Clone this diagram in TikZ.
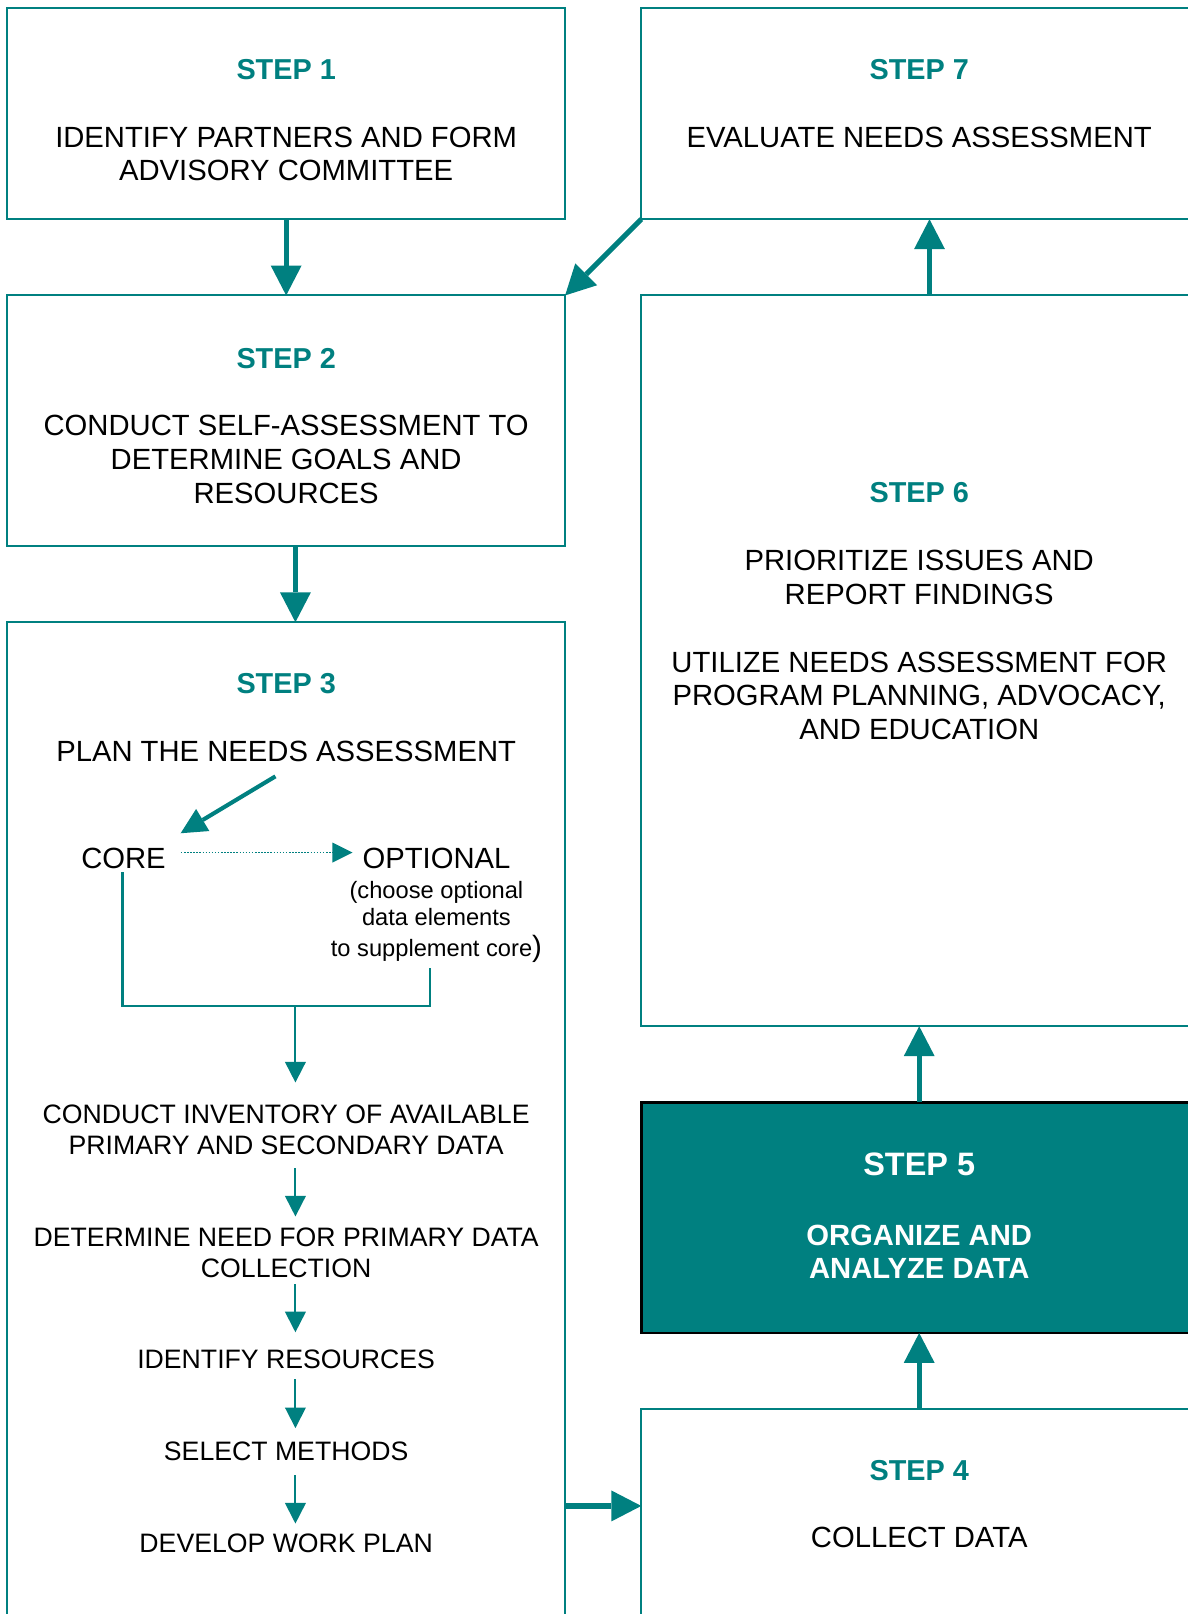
\documentclass[tikz,border=0pt]{standalone}
\usepackage{fontspec}
\setmainfont{Liberation Sans}
\usetikzlibrary{arrows.meta,calc}
\definecolor{tealc}{RGB}{0,128,128}
\begin{document}
\begin{tikzpicture}[x=1pt,y=1pt,
  box/.style={draw=tealc,line width=2pt,inner sep=0pt,outer sep=0pt,anchor=north west},
  darkbox/.style={draw=black,fill=tealc,line width=2.5pt,inner sep=0pt,outer sep=0pt,anchor=north west},
  lbl/.style={font=\bfseries\fontsize{28}{32}\selectfont,text=tealc,anchor=north,inner sep=0pt},
  big/.style={font=\fontsize{28.4}{32.8}\selectfont,align=center,anchor=north,inner sep=0pt},
  mid/.style={font=\fontsize{25.9}{30}\selectfont,align=center,anchor=north,inner sep=0pt},
  sml/.style={font=\fontsize{23}{26}\selectfont,align=center,anchor=north,inner sep=0pt},
  wlbl/.style={font=\bfseries\fontsize{31.5}{34}\selectfont,text=white,anchor=north,inner sep=0pt},
  wtxt/.style={font=\bfseries\fontsize{28.4}{32.4}\selectfont,text=white,align=center,anchor=north,inner sep=0pt},
  thickarrow/.style={draw=tealc,line width=5pt,-{Triangle[length=29pt,width=30pt,line width=0pt]}},
  diagarrow/.style={draw=tealc,line width=4pt,-{Triangle[length=25pt,width=25pt,line width=0pt]}},
  inarrow/.style={draw=tealc,line width=2pt,-{Triangle[length=20pt,width=20.5pt,line width=0pt]}},
  dotarrow/.style={draw=tealc,line width=1.5pt,dash pattern=on 1.5pt off 1.5pt,-{Triangle[length=19.5pt,width=19.5pt,line width=0pt]}},
  thinline/.style={draw=tealc,line width=2pt}]
\useasboundingbox[fill=white] (0,0) rectangle (1154,-1568);
\clip (0,0) rectangle (1154,-1568);

% boxes
\node[box,minimum width=542pt,minimum height=205pt] (s1) at (7,-8) {};
\node[box,minimum width=542pt,minimum height=243pt] (s2) at (7,-287) {};
\node[box,minimum width=542pt,minimum height=1036pt] (s3) at (7,-604.5) {};
\node[box,minimum width=540pt,minimum height=205pt] (s7) at (623,-8) {};
\node[box,minimum width=540pt,minimum height=710pt] (s6) at (623,-287) {};
\node[darkbox,minimum width=540pt,minimum height=224pt] (s5) at (623,-1071) {};
\node[box,minimum width=540pt,minimum height=271pt] (s4) at (623,-1369) {};

% step 1
\node[lbl] (l1) at (278,-57.6) {STEP 1};
\node[big] (t1) at (278,-123) {IDENTIFY PARTNERS AND FORM\\ADVISORY COMMITTEE};
% step 7
\node[lbl] (l7) at (893,-57.6) {STEP 7};
\node[big] (t7) at (893,-123) {EVALUATE NEEDS ASSESSMENT};
% step 2
\node[lbl] (l2) at (278,-338.4) {STEP 2};
\node[big] (t2) at (278,-403.1) {CONDUCT SELF-ASSESSMENT TO\\DETERMINE GOALS AND\\RESOURCES};
% step 6
\node[lbl] (l6) at (893,-468.8) {STEP 6};
\node[big] (t6a) at (893,-534.2) {PRIORITIZE ISSUES AND\\REPORT FINDINGS};
\node[big] (t6b) at (893,-633) {UTILIZE NEEDS ASSESSMENT FOR\\PROGRAM PLANNING, ADVOCACY,\\AND EDUCATION};
% step 5
\node[wlbl] (l5) at (893,-1119.6) {STEP 5};
\node[wtxt] (t5) at (893,-1189.9) {ORGANIZE AND\\ANALYZE DATA};
% step 4
\node[lbl] (l4) at (893,-1418.2) {STEP 4};
\node[big] (t4) at (893,-1483) {COLLECT DATA};
% step 3
\node[lbl] (l3) at (278,-654) {STEP 3};
\node[big] (plan) at (278,-719.7) {PLAN THE NEEDS ASSESSMENT};
\node[big] (core) at (120,-824) {CORE};
\node[big] (opt) at (424,-824) {OPTIONAL};
\node[sml] (note) at (424,-856.4) {(choose optional\\data elements\\[3.5pt]to supplement core{\fontsize{28.5}{26}\selectfont)}};
\node[mid] (inv) at (278,-1073.3) {CONDUCT INVENTORY OF AVAILABLE\\PRIMARY AND SECONDARY DATA};
\node[mid] (det) at (278,-1193.1) {DETERMINE NEED FOR PRIMARY DATA\\COLLECTION};
\node[mid] (res) at (278,-1311.3) {IDENTIFY RESOURCES};
\node[mid] (meth) at (278,-1400.4) {SELECT METHODS};
\node[mid] (work) at (278,-1490.1) {DEVELOP WORK PLAN};

% coordinates for the bracket
\coordinate (bl) at (119,-977);
\coordinate (br) at (418,-977);
\coordinate (bt) at (418,-940);
\coordinate (brk) at (287,-977);
\coordinate (j34) at (0,-1463);

% main connectors
\draw[thickarrow] (s1.south) -- (s2.north);
\draw[thickarrow] ([xshift=9pt]s2.south) -- ([xshift=9pt]s3.north);
\draw[thickarrow] (s7.south west) -- (s2.north east);
\draw[thickarrow] ([xshift=10pt]s6.north) -- ([xshift=10pt]s7.south);
\draw[thickarrow] (s5.north) -- (s6.south);
\draw[thickarrow] (s4.north) -- (s5.south);
\draw[thickarrow] (s3.east |- j34) -- (s4.west |- j34);

% inner connectors of step 3
\draw[diagarrow] ([shift={(-10.4pt,-14pt)}]plan.south) -- ([shift={(55.5pt,14.5pt)}]core.north);
\draw[dotarrow,shorten <=14.5pt,shorten >=9.5pt] ([yshift=6pt]core.east) -- ([yshift=6pt]opt.west);
\draw[thinline] ([xshift=-1pt,yshift=-3pt]core.south) -- (bl) -- (br) -- (bt);
\draw[inarrow,shorten >=21.7pt] (brk) -- (inv.north -| brk);
\draw[inarrow,shorten <=13pt,shorten >=11.3pt] (inv.south -| brk) -- (det.north -| brk);
\draw[inarrow,shorten <=6pt,shorten >=17pt] (det.south -| brk) -- (res.north -| brk);
\draw[inarrow,shorten <=10pt,shorten >=13pt] (res.south -| brk) -- (meth.north -| brk);
\draw[inarrow,shorten <=14pt,shorten >=10pt] (meth.south -| brk) -- (work.north -| brk);
\end{tikzpicture}
\end{document}
